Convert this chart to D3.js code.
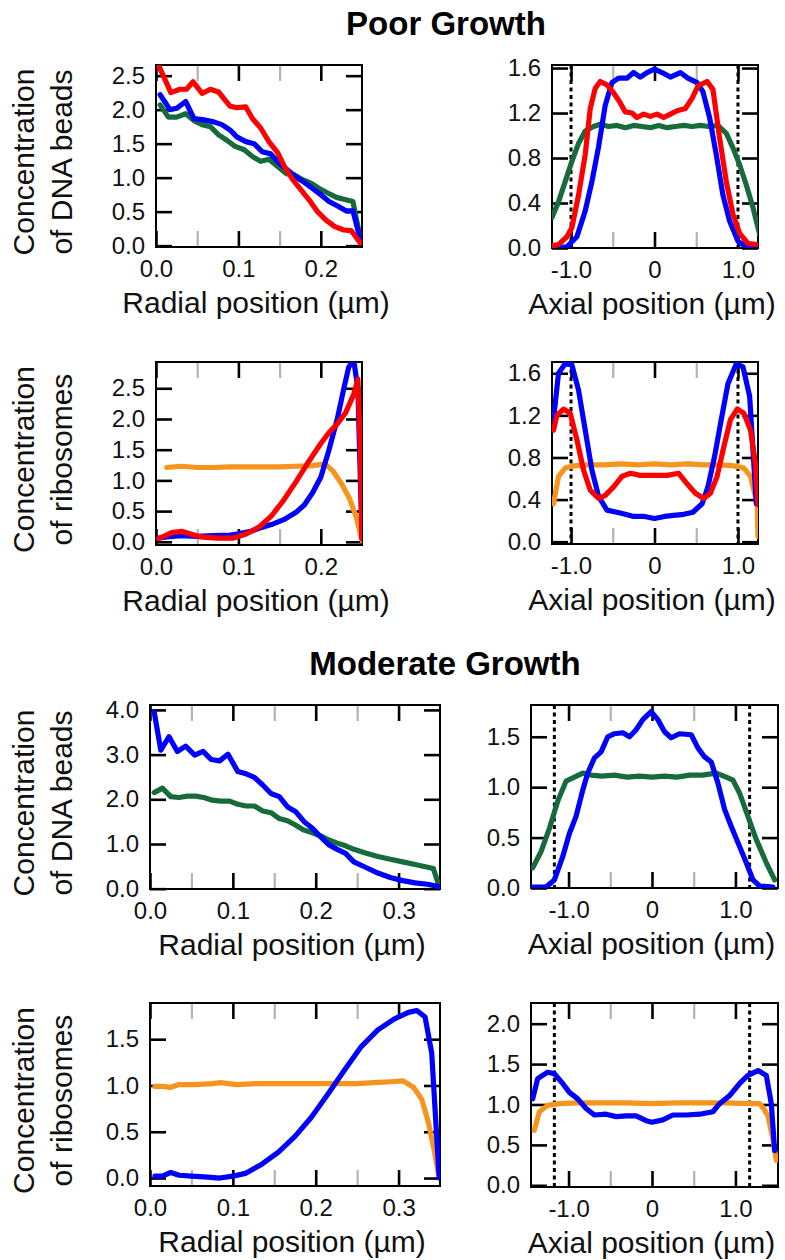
<!DOCTYPE html>
<html>
<head>
<meta charset="utf-8">
<script src="https://cdn.jsdelivr.net/npm/d3@7"></script>
<style>
  body { margin: 0; background: #fff; }
  svg { display: block; font-family: "Liberation Sans", Arial, sans-serif; }
</style>
</head>
<body>
<div id="chart"></div>
<script>
// ---------- data ----------
// Poor growth, DNA beads, radial
const poorDnaRadRed = [[0.004,2.63],[0.018,2.25],[0.029,2.30],[0.037,2.30],[0.045,2.41],[0.056,2.24],[0.066,2.30],[0.076,2.26],[0.090,2.05],[0.098,2.03],[0.109,2.04],[0.117,1.87],[0.127,1.73],[0.137,1.53],[0.148,1.36],[0.156,1.16],[0.166,0.97],[0.176,0.82],[0.186,0.67],[0.196,0.50],[0.206,0.38],[0.217,0.28],[0.228,0.23],[0.237,0.22],[0.248,0.04]];
const poorDnaRadBlue = [[0.005,2.22],[0.017,2.00],[0.025,2.02],[0.036,2.12],[0.046,1.87],[0.058,1.85],[0.070,1.82],[0.080,1.78],[0.090,1.70],[0.098,1.60],[0.109,1.53],[0.119,1.50],[0.129,1.38],[0.139,1.35],[0.150,1.21],[0.160,1.11],[0.170,1.01],[0.180,0.93],[0.190,0.84],[0.200,0.75],[0.210,0.65],[0.221,0.58],[0.231,0.51],[0.239,0.51],[0.249,0.04]];
const poorDnaRadGreen = [[0.005,2.07],[0.015,1.89],[0.025,1.89],[0.036,1.94],[0.046,1.84],[0.056,1.78],[0.066,1.75],[0.076,1.63],[0.086,1.55],[0.096,1.46],[0.107,1.41],[0.117,1.31],[0.127,1.24],[0.137,1.27],[0.148,1.16],[0.158,1.06],[0.168,1.04],[0.178,0.97],[0.188,0.92],[0.198,0.84],[0.209,0.77],[0.219,0.71],[0.229,0.68],[0.239,0.65],[0.249,0.04]];

// Poor growth, DNA beads, axial
const poorDnaAxBlue = [[-1.21,0.00],[-1.05,0.01],[-0.93,0.10],[-0.83,0.33],[-0.75,0.59],[-0.67,0.90],[-0.59,1.27],[-0.51,1.47],[-0.43,1.51],[-0.33,1.51],[-0.25,1.56],[-0.17,1.52],[-0.09,1.56],[0.00,1.59],[0.09,1.56],[0.19,1.52],[0.31,1.56],[0.40,1.51],[0.51,1.47],[0.58,1.39],[0.66,1.16],[0.74,0.83],[0.82,0.47],[0.90,0.24],[1.00,0.06],[1.10,0.01],[1.18,0.00]];
const poorDnaAxRed = [[-1.23,0.02],[-1.15,0.03],[-1.05,0.10],[-0.99,0.18],[-0.91,0.47],[-0.83,0.83],[-0.77,1.24],[-0.71,1.42],[-0.65,1.48],[-0.57,1.45],[-0.49,1.38],[-0.41,1.29],[-0.35,1.21],[-0.27,1.20],[-0.21,1.16],[-0.13,1.19],[-0.05,1.17],[0.03,1.19],[0.11,1.16],[0.19,1.19],[0.27,1.22],[0.37,1.24],[0.45,1.33],[0.52,1.44],[0.63,1.48],[0.70,1.41],[0.78,0.98],[0.86,0.59],[0.94,0.30],[1.02,0.13],[1.12,0.04],[1.24,0.03]];
const poorDnaAxGreen = [[-1.23,0.27],[-1.15,0.41],[-1.07,0.59],[-0.99,0.77],[-0.91,0.93],[-0.83,1.04],[-0.73,1.08],[-0.65,1.10],[-0.55,1.08],[-0.45,1.09],[-0.35,1.07],[-0.25,1.09],[-0.15,1.08],[-0.05,1.07],[0.05,1.09],[0.15,1.07],[0.25,1.08],[0.35,1.09],[0.45,1.08],[0.55,1.09],[0.65,1.08],[0.76,1.09],[0.86,1.02],[0.94,0.89],[1.02,0.74],[1.10,0.56],[1.18,0.36],[1.26,0.12]];

// Poor growth, ribosomes, radial
const poorRibRadBlue = [[0.003,0.06],[0.013,0.08],[0.030,0.10],[0.050,0.09],[0.070,0.10],[0.090,0.11],[0.100,0.13],[0.115,0.17],[0.125,0.22],[0.140,0.28],[0.155,0.36],[0.170,0.48],[0.180,0.60],[0.190,0.80],[0.200,1.05],[0.210,1.50],[0.220,2.00],[0.228,2.50],[0.234,2.85],[0.240,2.95],[0.245,2.50],[0.250,0.05]];
const poorRibRadRed = [[0.003,0.05],[0.019,0.15],[0.031,0.17],[0.039,0.14],[0.054,0.08],[0.074,0.06],[0.094,0.06],[0.110,0.13],[0.125,0.24],[0.140,0.42],[0.155,0.68],[0.170,0.98],[0.185,1.30],[0.200,1.60],[0.210,1.78],[0.220,1.92],[0.230,2.10],[0.240,2.40],[0.245,2.65],[0.248,1.50],[0.250,0.05]];
const poorRibRadOrange = [[0.013,1.21],[0.030,1.23],[0.050,1.21],[0.070,1.21],[0.090,1.22],[0.110,1.22],[0.130,1.22],[0.150,1.22],[0.170,1.23],[0.190,1.24],[0.205,1.27],[0.215,1.15],[0.225,0.95],[0.235,0.70],[0.243,0.40],[0.250,0.02]];

// Poor growth, ribosomes, axial
const poorRibAxBlue = [[-1.21,1.16],[-1.15,1.60],[-1.07,1.69],[-0.99,1.68],[-0.91,1.44],[-0.83,1.06],[-0.75,0.68],[-0.67,0.43],[-0.57,0.30],[-0.45,0.28],[-0.35,0.26],[-0.25,0.24],[-0.12,0.24],[0.00,0.22],[0.12,0.24],[0.23,0.25],[0.35,0.26],[0.46,0.28],[0.57,0.36],[0.64,0.52],[0.72,0.81],[0.80,1.16],[0.88,1.50],[0.98,1.69],[1.06,1.66],[1.14,1.38],[1.22,0.36]];
const poorRibAxRed = [[-1.21,1.06],[-1.17,1.20],[-1.09,1.26],[-1.01,1.22],[-0.93,0.97],[-0.85,0.68],[-0.77,0.49],[-0.67,0.41],[-0.59,0.44],[-0.49,0.52],[-0.39,0.62],[-0.29,0.65],[-0.17,0.63],[0.00,0.63],[0.15,0.63],[0.29,0.65],[0.39,0.55],[0.49,0.46],[0.59,0.41],[0.67,0.46],[0.75,0.62],[0.83,0.90],[0.91,1.16],[0.99,1.26],[1.07,1.22],[1.15,1.06],[1.21,0.74],[1.24,0.35]];
const poorRibAxOrange = [[-1.21,0.36],[-1.15,0.62],[-1.07,0.70],[-0.97,0.72],[-0.80,0.73],[-0.60,0.73],[-0.40,0.74],[-0.20,0.73],[0.00,0.74],[0.20,0.73],[0.40,0.74],[0.60,0.73],[0.80,0.73],[0.95,0.72],[1.07,0.70],[1.15,0.62],[1.23,0.36],[1.24,0.05]];

// Moderate growth, DNA beads, radial
const modDnaRadBlue = [[0.005,3.96],[0.013,3.10],[0.023,3.40],[0.033,3.07],[0.043,3.19],[0.054,2.99],[0.064,3.07],[0.074,2.89],[0.084,2.86],[0.094,3.01],[0.106,2.62],[0.116,2.57],[0.126,2.49],[0.136,2.32],[0.146,2.13],[0.156,2.06],[0.166,1.83],[0.176,1.72],[0.186,1.50],[0.196,1.35],[0.206,1.16],[0.216,0.98],[0.226,0.88],[0.236,0.79],[0.246,0.60],[0.260,0.48],[0.275,0.35],[0.290,0.25],[0.305,0.18],[0.320,0.13],[0.335,0.10],[0.348,0.05]];
const modDnaRadGreen = [[0.005,2.15],[0.015,2.25],[0.025,2.06],[0.035,2.04],[0.045,2.07],[0.055,2.07],[0.065,2.04],[0.075,1.98],[0.085,1.96],[0.096,1.96],[0.106,1.89],[0.116,1.85],[0.126,1.85],[0.136,1.74],[0.146,1.70],[0.156,1.57],[0.166,1.52],[0.176,1.42],[0.186,1.31],[0.196,1.25],[0.206,1.18],[0.216,1.09],[0.226,1.02],[0.236,0.96],[0.246,0.88],[0.260,0.80],[0.275,0.72],[0.290,0.66],[0.305,0.60],[0.320,0.54],[0.335,0.48],[0.342,0.45],[0.349,0.05]];

// Moderate growth, DNA beads, axial
const modDnaAxBlue = [[-1.43,0.01],[-1.27,0.01],[-1.17,0.08],[-1.07,0.31],[-0.99,0.54],[-0.91,0.71],[-0.83,0.97],[-0.77,1.14],[-0.69,1.29],[-0.61,1.35],[-0.53,1.50],[-0.45,1.53],[-0.35,1.54],[-0.27,1.50],[-0.19,1.57],[-0.11,1.67],[-0.01,1.75],[0.07,1.67],[0.15,1.55],[0.23,1.49],[0.33,1.53],[0.47,1.52],[0.55,1.39],[0.63,1.30],[0.71,1.25],[0.79,1.04],[0.87,0.78],[0.95,0.61],[1.03,0.45],[1.13,0.25],[1.21,0.08],[1.29,0.02],[1.45,0.01]];
const modDnaAxGreen = [[-1.43,0.20],[-1.33,0.36],[-1.23,0.59],[-1.13,0.86],[-1.03,1.06],[-0.93,1.10],[-0.83,1.14],[-0.73,1.12],[-0.60,1.11],[-0.45,1.12],[-0.30,1.10],[-0.15,1.11],[0.00,1.10],[0.15,1.11],[0.30,1.10],[0.45,1.12],[0.60,1.12],[0.77,1.14],[0.89,1.10],[0.97,1.07],[1.05,0.94],[1.15,0.71],[1.25,0.48],[1.37,0.25],[1.47,0.08]];

// Moderate growth, ribosomes, radial
const modRibRadBlue = [[0.006,0.02],[0.015,0.02],[0.025,0.06],[0.035,0.03],[0.050,0.02],[0.070,0.01],[0.084,0.00],[0.100,0.02],[0.115,0.05],[0.135,0.15],[0.155,0.28],[0.175,0.45],[0.195,0.66],[0.215,0.91],[0.235,1.17],[0.255,1.42],[0.275,1.60],[0.295,1.72],[0.312,1.79],[0.322,1.81],[0.332,1.74],[0.340,1.35],[0.345,0.60],[0.349,0.00]];
const modRibRadOrange = [[0.006,0.99],[0.015,0.99],[0.025,0.98],[0.035,1.01],[0.055,1.01],[0.075,1.02],[0.085,1.03],[0.105,1.01],[0.130,1.02],[0.160,1.02],[0.190,1.02],[0.220,1.02],[0.250,1.02],[0.270,1.03],[0.290,1.04],[0.305,1.05],[0.318,0.98],[0.328,0.85],[0.336,0.60],[0.343,0.30],[0.348,0.05]];

// Moderate growth, ribosomes, axial
const modRibAxBlue = [[-1.43,1.07],[-1.37,1.32],[-1.25,1.40],[-1.17,1.38],[-1.07,1.26],[-0.99,1.15],[-0.89,1.07],[-0.79,0.95],[-0.69,0.87],[-0.55,0.88],[-0.43,0.85],[-0.31,0.86],[-0.19,0.86],[-0.07,0.80],[0.00,0.78],[0.13,0.81],[0.25,0.87],[0.41,0.87],[0.57,0.88],[0.73,0.91],[0.81,1.01],[0.93,1.11],[1.05,1.26],[1.15,1.36],[1.27,1.42],[1.37,1.36],[1.43,1.01],[1.47,0.43]];
const modRibAxOrange = [[-1.41,0.68],[-1.35,0.91],[-1.25,0.99],[-1.11,1.01],[-0.90,1.02],[-0.60,1.02],[-0.30,1.02],[0.00,1.01],[0.30,1.02],[0.60,1.02],[0.90,1.02],[1.15,1.01],[1.29,1.01],[1.33,0.96],[1.39,0.86],[1.45,0.56],[1.49,0.31]];

// tick values and labels
const radialTicksPoor = [0, 0.1, 0.2];
const radialLabelsPoor = ["0.0", "0.1", "0.2"];
const radialMinorPoor = [0.05, 0.15];
const radialTicksMod = [0, 0.1, 0.2, 0.3];
const radialLabelsMod = ["0.0", "0.1", "0.2", "0.3"];
const radialMinorMod = [0.05, 0.15, 0.25];
const axialTicks = [-1, 0, 1];
const axialLabels = ["-1.0", "0", "1.0"];
const axialMinor = [-0.5, 0.5];
const yTicksPoorDna = [0, 0.5, 1, 1.5, 2, 2.5];
const yTicksPoorDnaAx = [0, 0.4, 0.8, 1.2, 1.6];
const yTicksPoorRib = [0, 0.5, 1, 1.5, 2, 2.5];
const yTicksPoorRibAx = [0, 0.4, 0.8, 1.2, 1.6];
const yTicksModDna = [0, 1, 2, 3, 4];
const yTicksModDnaAx = [0, 0.5, 1, 1.5];
const yTicksModRib = [0, 0.5, 1, 1.5];
const yTicksModRibAx = [0, 0.5, 1, 1.5, 2];
const dottedPoor = [-1.0, 1.0];
const dottedMod = [-1.17, 1.17];

const RED = "#ff0000", BLUE = "#0000ff", GREEN = "#176b3a", ORANGE = "#f7941d";

const svg = d3.select("#chart").append("svg")
  .attr("width", 785).attr("height", 1260);

const fmt1 = d => d.toFixed(1);

function drawPanel(p) {
  const x = d3.scaleLinear().domain(p.xDomain).range([p.left, p.right]);
  const y = d3.scaleLinear().domain(p.yDomain).range([p.bottom, p.top]);
  const g = svg.append("g");
  const TICK = 16;

  svg.append("clipPath").attr("id", "clip-" + p.id)
    .append("rect")
    .attr("x", p.left).attr("y", p.top)
    .attr("width", p.right - p.left).attr("height", p.bottom - p.top);

  // dotted reference lines
  (p.dotted || []).forEach(v => {
    g.append("line")
      .attr("x1", x(v)).attr("x2", x(v))
      .attr("y1", p.top).attr("y2", p.bottom)
      .attr("stroke", "#000").attr("stroke-width", 3)
      .attr("stroke-dasharray", "4,3.5");
  });

  // minor (gray) x ticks, top + bottom
  const minorB = g.append("g").attr("transform", `translate(0,${p.bottom})`)
    .call(d3.axisBottom(x).tickValues(p.xMinor).tickSize(-TICK).tickFormat(""));
  const minorT = g.append("g").attr("transform", `translate(0,${p.top})`)
    .call(d3.axisTop(x).tickValues(p.xMinor).tickSize(-TICK).tickFormat(""));
  [minorB, minorT].forEach(a => {
    a.select(".domain").remove();
    a.selectAll("line").attr("stroke", "#b4b4b4").attr("stroke-width", 2.2);
  });

  // major x ticks
  const xb = g.append("g").attr("transform", `translate(0,${p.bottom})`)
    .call(d3.axisBottom(x).tickValues(p.xTicks).tickSize(-TICK).tickPadding(13)
      .tickFormat((d, i) => p.xLabels[i]));
  const xt = g.append("g").attr("transform", `translate(0,${p.top})`)
    .call(d3.axisTop(x).tickValues(p.xTicks).tickSize(-TICK).tickFormat(""));

  // y ticks
  const yl = g.append("g").attr("transform", `translate(${p.left},0)`)
    .call(d3.axisLeft(y).tickValues(p.yTicks).tickSize(-TICK).tickPadding(11).tickFormat(fmt1));
  const yr = g.append("g").attr("transform", `translate(${p.right},0)`)
    .call(d3.axisRight(y).tickValues(p.yTicks).tickSize(-TICK).tickFormat(""));

  [xb, xt, yl, yr].forEach(a => {
    a.select(".domain").remove();
    a.selectAll("line").attr("stroke", "#000").attr("stroke-width", 2.6);
    a.selectAll("text").attr("fill", "#111").style("font-size", "24px");
  });

  // frame
  g.append("rect")
    .attr("x", p.left).attr("y", p.top)
    .attr("width", p.right - p.left).attr("height", p.bottom - p.top)
    .attr("fill", "none").attr("stroke", "#000").attr("stroke-width", 2);

  // curves
  const line = d3.line().x(d => x(d[0])).y(d => y(d[1]));
  const curves = g.append("g").attr("clip-path", `url(#clip-${p.id})`);
  p.series.forEach(s => {
    curves.append("path")
      .datum(s.data)
      .attr("d", line)
      .attr("fill", "none")
      .attr("stroke", s.color)
      .attr("stroke-width", 5.2)
      .attr("stroke-linejoin", "round")
      .attr("stroke-linecap", "round");
  });

  // x title
  g.append("text")
    .attr("x", (p.left + p.right) / 2 - 3)
    .attr("y", p.bottom + 66)
    .attr("text-anchor", "middle")
    .style("font-size", "30px").attr("fill", "#111")
    .text(p.xTitle);

  // y title (two lines, only on left column)
  if (p.yTitle) {
    const cy = (p.top + p.bottom) / 2 + 6;
    p.yTitle.forEach((t, i) => {
      g.append("text")
        .attr("transform", `translate(${34 + i * 38},${cy}) rotate(-90)`)
        .attr("text-anchor", "middle")
        .style("font-size", "30px").attr("fill", "#111")
        .text(t);
    });
  }
}

const panels = [
  { id: "a", left: 156, right: 362, top: 65, bottom: 247,
    xDomain: [0, 0.25], yDomain: [-0.02, 2.657],
    xTicks: radialTicksPoor, xLabels: radialLabelsPoor, xMinor: radialMinorPoor, yTicks: yTicksPoorDna,
    xTitle: "Radial position (µm)", yTitle: ["Concentration", "of DNA beads"],
    series: [{ data: poorDnaRadGreen, color: GREEN }, { data: poorDnaRadBlue, color: BLUE }, { data: poorDnaRadRed, color: RED }] },
  { id: "b", left: 552, right: 758, top: 65, bottom: 248,
    xDomain: [-1.228, 1.24], yDomain: [0, 1.627],
    xTicks: axialTicks, xLabels: axialLabels, xMinor: axialMinor, yTicks: yTicksPoorDnaAx, dotted: dottedPoor,
    xTitle: "Axial position (µm)",
    series: [{ data: poorDnaAxGreen, color: GREEN }, { data: poorDnaAxBlue, color: BLUE }, { data: poorDnaAxRed, color: RED }] },
  { id: "c", left: 156, right: 362, top: 362, bottom: 545,
    xDomain: [0, 0.25], yDomain: [-0.052, 2.928],
    xTicks: radialTicksPoor, xLabels: radialLabelsPoor, xMinor: radialMinorPoor, yTicks: yTicksPoorRib,
    xTitle: "Radial position (µm)", yTitle: ["Concentration", "of ribosomes"],
    series: [{ data: poorRibRadOrange, color: ORANGE }, { data: poorRibRadBlue, color: BLUE }, { data: poorRibRadRed, color: RED }] },
  { id: "d", left: 552, right: 758, top: 362, bottom: 544,
    xDomain: [-1.228, 1.24], yDomain: [-0.022, 1.707],
    xTicks: axialTicks, xLabels: axialLabels, xMinor: axialMinor, yTicks: yTicksPoorRibAx, dotted: dottedPoor,
    xTitle: "Axial position (µm)",
    series: [{ data: poorRibAxOrange, color: ORANGE }, { data: poorRibAxBlue, color: BLUE }, { data: poorRibAxRed, color: RED }] },
  { id: "e", left: 150, right: 440, top: 705, bottom: 889,
    xDomain: [0, 0.35], yDomain: [-0.007, 4.11],
    xTicks: radialTicksMod, xLabels: radialLabelsMod, xMinor: radialMinorMod, yTicks: yTicksModDna,
    xTitle: "Radial position (µm)", yTitle: ["Concentration", "of DNA beads"],
    series: [{ data: modDnaRadGreen, color: GREEN }, { data: modDnaRadBlue, color: BLUE }] },
  { id: "f", left: 531, right: 778, top: 705, bottom: 888,
    xDomain: [-1.45, 1.51], yDomain: [0, 1.815],
    xTicks: axialTicks, xLabels: axialLabels, xMinor: axialMinor, yTicks: yTicksModDnaAx, dotted: dottedMod,
    xTitle: "Axial position (µm)",
    series: [{ data: modDnaAxGreen, color: GREEN }, { data: modDnaAxBlue, color: BLUE }] },
  { id: "g", left: 150, right: 440, top: 1003, bottom: 1186,
    xDomain: [0, 0.35], yDomain: [-0.086, 1.891],
    xTicks: radialTicksMod, xLabels: radialLabelsMod, xMinor: radialMinorMod, yTicks: yTicksModRib,
    xTitle: "Radial position (µm)", yTitle: ["Concentration", "of ribosomes"],
    series: [{ data: modRibRadOrange, color: ORANGE }, { data: modRibRadBlue, color: BLUE }] },
  { id: "h", left: 531, right: 778, top: 1003, bottom: 1187,
    xDomain: [-1.45, 1.51], yDomain: [-0.021, 2.256],
    xTicks: axialTicks, xLabels: axialLabels, xMinor: axialMinor, yTicks: yTicksModRibAx, dotted: dottedMod,
    xTitle: "Axial position (µm)",
    series: [{ data: modRibAxOrange, color: ORANGE }, { data: modRibAxBlue, color: BLUE }] }
];

panels.forEach(drawPanel);

// section titles
svg.append("text").attr("x", 446).attr("y", 35).attr("text-anchor", "middle")
  .style("font-size", "33px").style("font-weight", "bold").attr("fill", "#000")
  .text("Poor Growth");
svg.append("text").attr("x", 445).attr("y", 675).attr("text-anchor", "middle")
  .style("font-size", "33px").style("font-weight", "bold").attr("fill", "#000")
  .text("Moderate Growth");
</script>
</body>
</html>
